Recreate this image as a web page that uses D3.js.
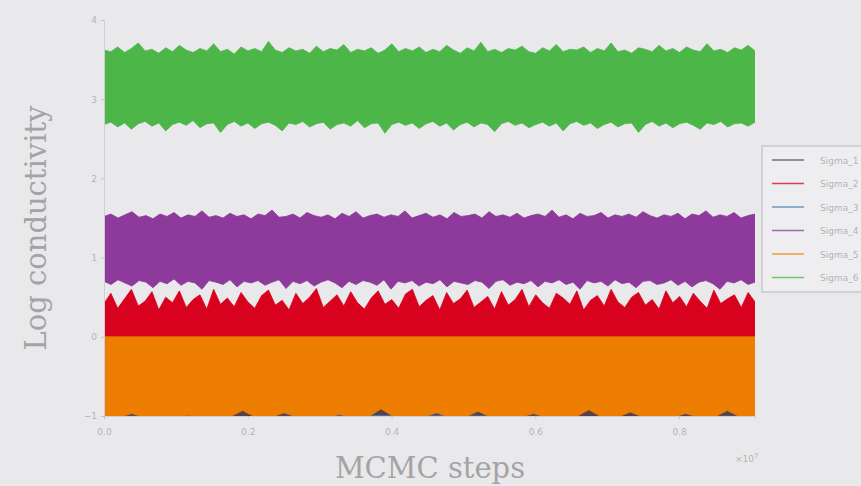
<!DOCTYPE html>
<html lang="en">
<head>
<meta charset="utf-8">
<title>MCMC trace</title>
<script src="https://d3js.org/d3.v7.min.js"></script>
<style>
body { margin: 0; background: #e9e9eb; }
svg { display: block; }
.tick text { font-family: "DejaVu Sans", sans-serif; font-size: 9px; fill: #b4b4b6; }
.tick line { stroke: #c4c4c6; }
.domain { stroke: #cfcfd1; }
</style>
</head>
<body>
<div id="chart"></div>
<script>
// values (log conductivity), samples spread evenly over the run
const nSteps = 0.9056e7;
const seriesNames = ["Sigma_1", "Sigma_2", "Sigma_3", "Sigma_4", "Sigma_5", "Sigma_6"];
const seriesColors = ["#5a4048", "#d8021f", "#3d7fb7", "#8d3a9c", "#ee7e02", "#4cb649"];

const darkHi = [-0.86,-0.9,-0.84,-0.88,-0.85,-0.91,-0.87,-0.83,-0.89,-0.86,-0.9,-0.85,-0.88,-0.84,-0.87,-0.9];
const darkLo = [-1.1,-1.1,-1.1,-1.1];
const redHi = [0.42,0.55,0.36,0.48,0.6,0.39,0.45,0.57,0.34,0.5,0.43,0.58,0.37,0.47,0.53,0.35,0.6,0.41,0.49,0.38,0.56,0.44,0.36,0.52,0.59,0.4,0.46,0.34,0.55,0.42,0.5,0.61,0.37,0.45,0.53,0.39,0.57,0.43,0.35,0.49,0.58,0.41,0.47,0.36,0.54,0.6,0.38,0.46,0.52,0.34,0.56,0.42,0.48,0.59,0.37,0.44,0.51,0.35,0.57,0.4,0.47,0.6,0.38,0.53,0.43,0.36,0.55,0.49,0.41,0.58,0.34,0.46,0.52,0.39,0.6,0.44,0.37,0.5,0.56,0.4,0.47,0.35,0.58,0.43,0.51,0.38,0.55,0.45,0.36,0.59,0.42,0.48,0.53,0.37,0.56,0.44];
const redLo = [-0.4,-0.45,-0.38,-0.42];
const blueHi = [-1.0,-1.01,-0.995,-1.0,-1.01,-1.0];
const blueLo = [-1.1,-1.1,-1.1,-1.1];
const purpleHi = [1.52,1.55,1.5,1.54,1.58,1.51,1.53,1.49,1.55,1.52,1.57,1.5,1.54,1.52,1.59,1.51,1.53,1.5,1.56,1.52,1.54,1.49,1.55,1.53,1.6,1.51,1.52,1.55,1.5,1.57,1.53,1.51,1.54,1.49,1.56,1.52,1.58,1.5,1.53,1.55,1.51,1.54,1.52,1.59,1.5,1.53,1.56,1.51,1.54,1.49,1.57,1.52,1.53,1.55,1.5,1.58,1.52,1.54,1.51,1.56,1.5,1.53,1.55,1.52,1.6,1.51,1.54,1.49,1.56,1.52,1.53,1.57,1.5,1.54,1.52,1.55,1.51,1.58,1.53,1.5,1.54,1.52,1.56,1.49,1.55,1.53,1.59,1.51,1.54,1.52,1.57,1.5,1.53,1.55];
const purpleLo = [0.7,0.66,0.72,0.68,0.64,0.71,0.69,0.62,0.7,0.67,0.73,0.65,0.7,0.68,0.6,0.71,0.69,0.66,0.72,0.63,0.7,0.68,0.71,0.65,0.69,0.72,0.61,0.7,0.67,0.71,0.64,0.69,0.72,0.68,0.62,0.7,0.66,0.71,0.69,0.65,0.72,0.6,0.7,0.68,0.71,0.64,0.69,0.67,0.72,0.63,0.7,0.68,0.66,0.71,0.69,0.61,0.7,0.72,0.65,0.69,0.67,0.71,0.63,0.7,0.68,0.72,0.66,0.69,0.6,0.71,0.68,0.7,0.64,0.72,0.67,0.69,0.62,0.7,0.71,0.66,0.68,0.72,0.65,0.7,0.63,0.69,0.71,0.67,0.6,0.7,0.68,0.72,0.66,0.69];
const orangeHi = [0,0,0,0];
const orangeLo = [-1.02,-1.02,-0.97,-1.02,-1.02,-1.02,-0.99,-1.02,-1.02,-1.02,-0.93,-1.02,-1.02,-0.96,-1.02,-1.02,-1.02,-0.98,-1.02,-1.02,-0.91,-1.02,-1.02,-1.02,-0.96,-1.02,-1.02,-0.94,-1.02,-1.02,-1.02,-0.97,-1.02,-1.02,-1.02,-0.92,-1.02,-1.02,-0.95,-1.02,-1.02,-1.02,-0.97,-1.02,-1.02,-0.93,-1.02,-1.02];
const greenHi = [3.62,3.6,3.66,3.59,3.64,3.71,3.61,3.63,3.58,3.65,3.6,3.68,3.62,3.59,3.64,3.61,3.7,3.6,3.63,3.57,3.66,3.61,3.64,3.6,3.73,3.62,3.59,3.65,3.61,3.63,3.58,3.67,3.6,3.64,3.62,3.69,3.59,3.63,3.61,3.65,3.58,3.62,3.7,3.6,3.64,3.61,3.66,3.59,3.63,3.6,3.68,3.62,3.58,3.65,3.61,3.72,3.6,3.63,3.59,3.64,3.62,3.67,3.6,3.58,3.65,3.61,3.69,3.6,3.63,3.62,3.66,3.59,3.64,3.61,3.71,3.6,3.62,3.58,3.65,3.63,3.6,3.68,3.61,3.64,3.59,3.66,3.62,3.6,3.7,3.61,3.63,3.59,3.65,3.62,3.68,3.61];
const greenLo = [2.68,2.71,2.65,2.7,2.62,2.69,2.72,2.66,2.7,2.6,2.68,2.71,2.67,2.73,2.64,2.69,2.7,2.58,2.68,2.72,2.66,2.7,2.63,2.69,2.71,2.67,2.6,2.7,2.68,2.72,2.65,2.69,2.71,2.62,2.68,2.7,2.66,2.73,2.64,2.69,2.7,2.57,2.68,2.71,2.67,2.7,2.63,2.69,2.72,2.66,2.7,2.61,2.68,2.71,2.65,2.7,2.68,2.59,2.69,2.72,2.67,2.7,2.64,2.68,2.71,2.66,2.7,2.6,2.69,2.72,2.67,2.7,2.63,2.68,2.71,2.65,2.69,2.7,2.58,2.68,2.72,2.66,2.7,2.64,2.69,2.71,2.67,2.62,2.7,2.68,2.72,2.65,2.69,2.7,2.66,2.71];

const yTicks = [-1, 0, 1, 2, 3, 4];
const xTicks = [0, 0.2e7, 0.4e7, 0.6e7, 0.8e7];
const xTickLabels = ["0.0", "0.2", "0.4", "0.6", "0.8"];

const bands = [
  [darkHi, darkLo], [redHi, redLo], [blueHi, blueLo],
  [purpleHi, purpleLo], [orangeHi, orangeLo], [greenHi, greenLo]
];

const width = 861, height = 486;
const margin = {left: 104, right: 106, top: 20, bottom: 70};

const svg = d3.select("#chart").append("svg")
    .attr("width", width)
    .attr("height", height);

const x = d3.scaleLinear().domain([0, nSteps]).range([margin.left, width - margin.right]);
const y = d3.scaleLinear().domain([-1, 4]).range([height - margin.bottom, margin.top]);

svg.append("clipPath").attr("id", "plotclip")
  .append("rect")
    .attr("x", x(0)).attr("y", y(4))
    .attr("width", x(nSteps) - x(0)).attr("height", y(-1) - y(4));

const traces = svg.append("g").attr("clip-path", "url(#plotclip)");

// each chain drawn as the band its trace fills
bands.forEach(function (b, i) {
    const hi = b[0], lo = b[1];
    const xs = d3.scaleLinear().domain([0, 1]).range([0, nSteps]);
    const top = hi.map((v, k) => [xs(k / (hi.length - 1)), v]);
    const bottom = lo.map((v, k) => [xs(k / (lo.length - 1)), v]).reverse();
    const line = d3.line().x(d => x(d[0])).y(d => y(d[1]));
    traces.append("path")
        .attr("d", line(top.concat(bottom)) + "Z")
        .attr("fill", seriesColors[i])
        .attr("stroke", seriesColors[i])
        .attr("stroke-width", 0.8);
});

svg.append("g")
    .attr("transform", "translate(" + x(0) + ",0)")
    .call(d3.axisLeft(y).tickValues(yTicks).tickSize(3).tickPadding(4)
        .tickFormat(d => d < 0 ? "\u2212" + Math.abs(d) : d));

svg.append("g")
    .attr("transform", "translate(0," + y(-1) + ")")
    .call(d3.axisBottom(x).tickValues(xTicks).tickSize(3).tickPadding(10)
        .tickFormat((d, i) => xTickLabels[i]));

svg.append("text")
    .attr("x", 735).attr("y", 462)
    .attr("font-family", "DejaVu Sans, sans-serif")
    .attr("font-size", 9).attr("fill", "#b4b4b6")
    .html("\u00d710<tspan dy='-4' font-size='7'>7</tspan>");

svg.append("text")
    .attr("x", 430).attr("y", 478)
    .attr("text-anchor", "middle")
    .attr("font-family", "DejaVu Serif, serif")
    .attr("font-size", 29).attr("fill", "#a4a4a6")
    .text("MCMC steps");

svg.append("text")
    .attr("transform", "translate(46,228) rotate(-90)")
    .attr("text-anchor", "middle")
    .attr("font-family", "DejaVu Serif, serif")
    .attr("font-size", 29).attr("fill", "#a4a4a6")
    .text("Log conductivity");

// legend, cut off by the right edge like the original
const legend = svg.append("g").attr("transform", "translate(762,146)");
legend.append("rect")
    .attr("width", 120).attr("height", 146)
    .attr("fill", "#eeeef0").attr("stroke", "#c2c2c4").attr("stroke-width", 1.2);

seriesNames.forEach(function (name, i) {
    const ly = 14 + i * 23.5;
    legend.append("line")
        .attr("x1", 10).attr("x2", 42).attr("y1", ly).attr("y2", ly)
        .attr("stroke", seriesColors[i]).attr("stroke-width", 1.5).attr("opacity", 0.75);
    legend.append("text")
        .attr("x", 58).attr("y", ly + 3.5)
        .attr("font-family", "DejaVu Sans, sans-serif")
        .attr("font-size", 9).attr("fill", "#b4b4b6")
        .text(name);
});
</script>
</body>
</html>
